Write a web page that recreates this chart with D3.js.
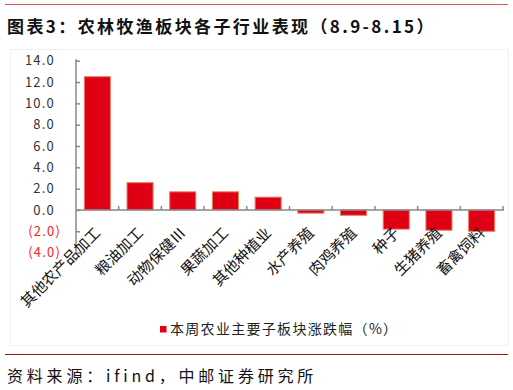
<!DOCTYPE html>
<html><head><meta charset="utf-8">
<script src="https://cdn.jsdelivr.net/npm/d3@7/dist/d3.min.js"></script>
<style>body{margin:0;background:#fff}svg{display:block}text{font-family:"Noto Sans CJK SC","Noto Sans",sans-serif}</style>
</head><body>
<script>
const categories = ["其他农产品加工","粮油加工","动物保健Ⅲ","果蔬加工","其他种植业","水产养殖","肉鸡养殖","种子","生猪养殖","畜禽饲料"];
const values = [12.5, 2.56, 1.7, 1.7, 1.2, -0.3, -0.5, -1.8, -1.9, -2.0];
const yTicks = [-4, -2, 0, 2, 4, 6, 8, 10, 12, 14];
const title = "图表3：农林牧渔板块各子行业表现（8.9-8.15）";
const legendLabel = "本周农业主要子板块涨跌幅（%）";
const source = "资料来源：ifind，中邮证券研究所";

const W = 513, H = 390;
const svg = d3.select("body").append("svg").attr("width", W).attr("height", H);

// top line and title
svg.append("line").attr("x1", 5).attr("x2", 508).attr("y1", 4.5).attr("y2", 4.5)
  .attr("stroke", "#d9534f").attr("stroke-width", 1.2);
svg.append("text").attr("x", 7).attr("y", 33).text(title)
  .attr("font-size", 17).attr("font-weight", "bold").attr("fill", "#111").style("letter-spacing", "2.4px");

// faint frame
svg.append("rect").attr("x", 10.5).attr("y", 49.5).attr("width", 498).attr("height", 296)
  .attr("fill", "none").attr("stroke", "#f0f0f0");

const y = d3.scaleLinear().domain([-4, 14]).range([252.6, 60.7]);
const x = d3.scaleBand().domain(categories).range([76, 503]).paddingInner(0.39).paddingOuter(0.195);
const y0 = y(0);

// bars
svg.append("g").selectAll("rect").data(values).join("rect")
  .attr("x", (d, i) => x(categories[i]))
  .attr("width", x.bandwidth())
  .attr("y", d => y(Math.max(0, d)))
  .attr("height", d => Math.abs(y(d) - y0))
  .attr("fill", "#e00016").attr("stroke", "#e87a5e").attr("stroke-width", 1);

// y axis
const yAxis = d3.axisLeft(y).tickValues(yTicks).tickSizeInner(-4).tickSizeOuter(0)
  .tickFormat(d => d < 0 ? "(" + d3.format(".1f")(-d) + ")" : d3.format(".1f")(d));
const gy = svg.append("g").attr("transform", "translate(76,0)").call(yAxis);
gy.select(".domain").attr("stroke", "#888").attr("stroke-width", 1.5).attr("d", `M0,${y(14)-1.5}V${y(-4)}`);
gy.selectAll(".tick line").attr("stroke", "#888").attr("stroke-width", 1.5);
gy.selectAll(".tick text")
  .attr("x", d => d < 0 ? -15 : -21)
  .attr("font-size", 13)
  .style("letter-spacing", "1.2px")
  .attr("font-family", "'Noto Sans CJK SC',sans-serif")
  .attr("fill", d => d < 0 ? "#ff2020" : "#333");

// x axis line and boundary ticks
const step = x.step();
const left = x(categories[0]) - step * x.paddingInner() / 2;
svg.append("line").attr("x1", 76).attr("x2", left + step * categories.length + 1)
  .attr("y1", y0).attr("y2", y0).attr("stroke", "#888").attr("stroke-width", 1.5);
svg.append("g").selectAll("line").data(categories).join("line")
  .attr("x1", (d, i) => x(d) - (step - x.bandwidth()) / 2 + step)
  .attr("x2", (d, i) => x(d) - (step - x.bandwidth()) / 2 + step)
  .attr("y1", y0).attr("y2", y0 - 4).attr("stroke", "#888").attr("stroke-width", 1.5);

// category labels
const xAxis = d3.axisBottom(x).tickSize(0);
const gx = svg.append("g").attr("transform", `translate(0,${y0})`).call(xAxis);
gx.select(".domain").remove();
gx.selectAll(".tick text")
  .attr("font-size", 15).attr("fill", "#111")
  .attr("font-family", "'Noto Sans CJK SC',sans-serif")
  .attr("y", 0).attr("dy", "0")
  .attr("text-anchor", "end")
  .attr("transform", "translate(4,24) rotate(-45)");

// legend
const lg = svg.append("g");
lg.append("rect").attr("x", 160).attr("y", 326).attr("width", 6.5).attr("height", 6.5).attr("fill", "#e00016");
lg.append("text").attr("x", 170).attr("y", 334).text(legendLabel)
  .attr("font-size", 14).attr("fill", "#222").style("letter-spacing", "1.3px");

// bottom line and source
svg.append("line").attr("x1", 5).attr("x2", 508).attr("y1", 354.5).attr("y2", 354.5)
  .attr("stroke", "#a31515").attr("stroke-width", 1.2);
svg.append("text").attr("x", 7).attr("y", 382).text(source)
  .attr("font-size", 16).attr("fill", "#111").style("letter-spacing", "3.8px");
</script>
</body></html>
